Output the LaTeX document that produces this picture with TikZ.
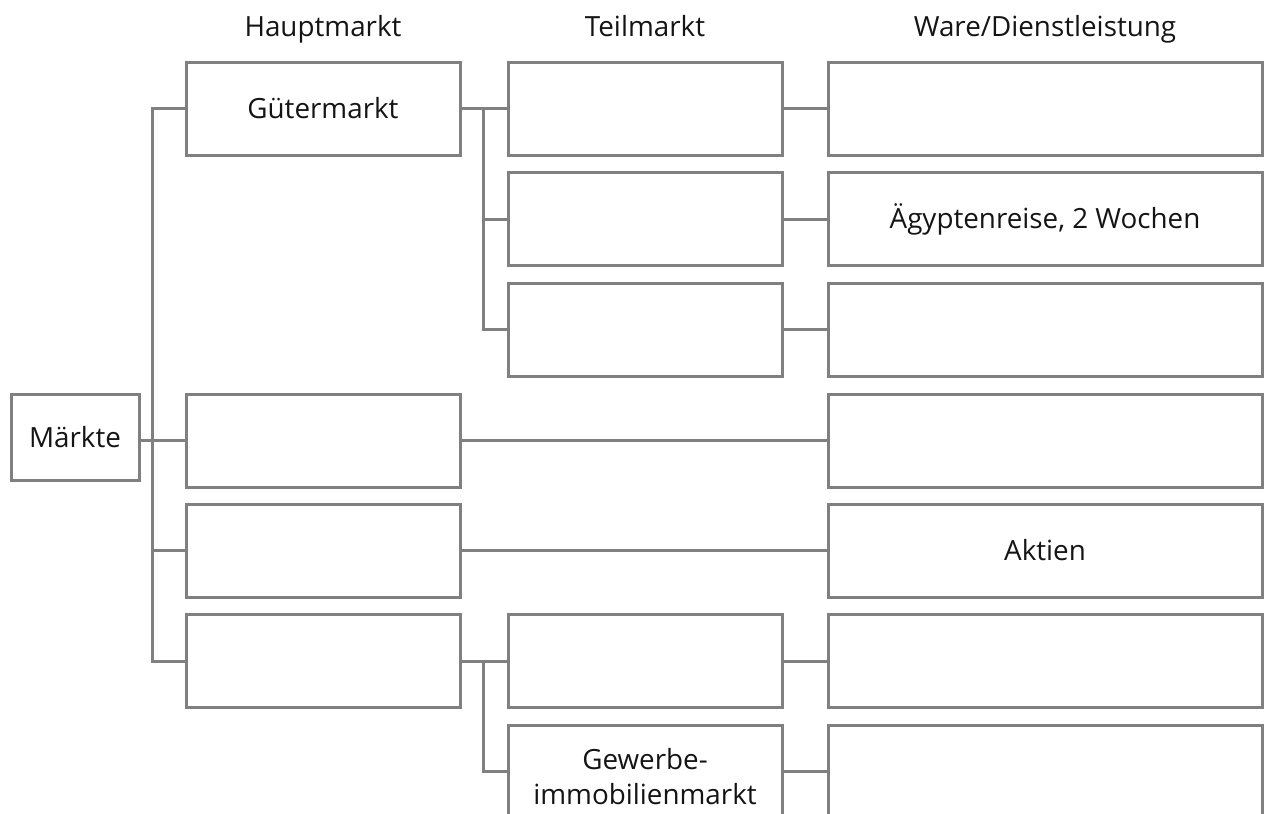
\documentclass[tikz,border=0pt]{standalone}
\usepackage{fontspec}
\setmainfont{Open Sans}
\begin{document}
\begin{tikzpicture}[x=1pt,y=-1pt,
  box/.style={draw=linegray, line width=3pt, rectangle, inner sep=0pt, minimum height=93pt, align=center, font=\fontsize{27.8}{35}\selectfont, text=textblack},
  hbox/.style={box, minimum width=274pt},
  wbox/.style={box, minimum width=434pt},
  lbl/.style={inner sep=0pt, align=center, font=\fontsize{27.8}{35}\selectfont, text=textblack},
  head/.style={font=\fontsize{27.8}{30}\selectfont, text=textblack, inner sep=0pt, anchor=base},
  conn/.style={draw=linegray, line width=3pt}]
\definecolor{linegray}{RGB}{128,128,128}
\definecolor{textblack}{RGB}{20,20,20}
\useasboundingbox (0,0) rectangle (1264,814);
\begin{scope}
\clip (0,0) rectangle (1264,814);
% headers
\node[head] (hh) at (323,36) {Hauptmarkt};
\node[head] (ht) at (645,36) {Teilmarkt};
\node[head] (hw) at (1045,36) {Ware/Dienstleistung};
% root
\node[box, minimum width=128pt, minimum height=86pt] (M) at (75,437) {Märkte};
% Hauptmarkt column
\node[hbox] (H1) at (323,108.5) {Gütermarkt};
\node[hbox] (H4) at (323,440.5) {};
\node[hbox] (H5) at (323,550.5) {};
\node[hbox] (H6) at (323,661) {};
% Teilmarkt column
\node[hbox] (T1) at (645,108.5) {};
\node[hbox] (T2) at (645,219) {};
\node[hbox] (T3) at (645,329.5) {};
\node[hbox] (T6) at (645,661) {};
\node[hbox] (T7) at (645,771.5) {};
\node[lbl] (T7t) at (645,777) {Gewerbe-\\immobilienmarkt};
% Ware column
\node[wbox] (W1) at (1045,108.5) {};
\node[wbox] (W2) at (1045,219) {Ägyptenreise, 2 Wochen};
\node[wbox] (W3) at (1045,329.5) {};
\node[wbox] (W4) at (1045,440.5) {};
\node[wbox] (W5) at (1045,550.5) {Aktien};
\node[wbox] (W6) at (1045,661) {};
\node[wbox] (W7) at (1045,771.5) {};
% trunk
\coordinate (trunkTop) at (152,108.5);
\coordinate (trunkBot) at (152,661);
\draw[conn] (H1.west) -- (trunkTop) -- (trunkBot) -- (H6.west);
\draw[conn] (M.east |- H4.west) -- (H4.west);
\draw[conn] (trunkTop |- H5.west) -- (H5.west);
% Gütermarkt branch
\coordinate (b1) at (483,108.5);
\draw[conn] (H1.east) -- (T1.west);
\draw[conn] (b1) |- (T2.west);
\draw[conn] (b1) |- (T3.west);
% row 6 branch
\coordinate (b6) at (483,661);
\draw[conn] (H6.east) -- (T6.west);
\draw[conn] (b6) |- (T7.west);
% to Ware
\draw[conn] (T1.east) -- (W1.west);
\draw[conn] (T2.east) -- (W2.west);
\draw[conn] (T3.east) -- (W3.west);
\draw[conn] (H4.east) -- (W4.west);
\draw[conn] (H5.east) -- (W5.west);
\draw[conn] (T6.east) -- (W6.west);
\draw[conn] (T7.east) -- (W7.west);
\end{scope}
\end{tikzpicture}
\end{document}
